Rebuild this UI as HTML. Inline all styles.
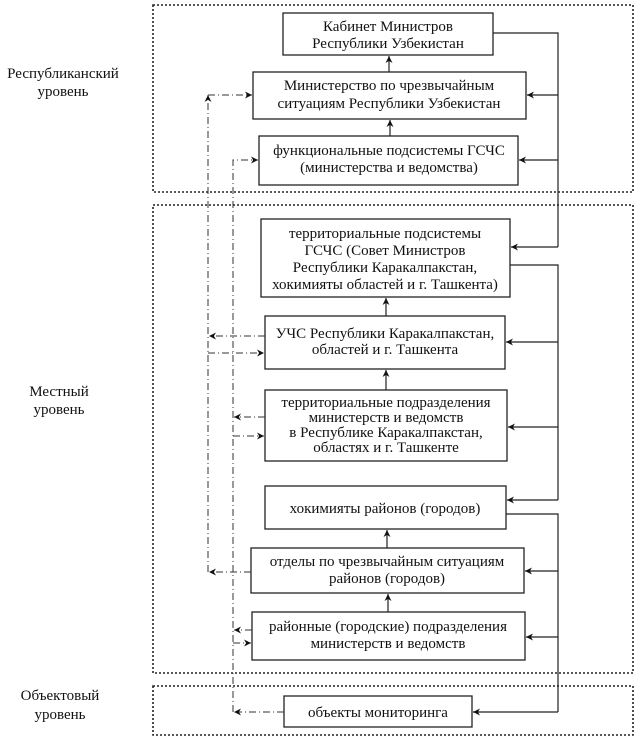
<!DOCTYPE html>
<html><head><meta charset="utf-8"><style>
html,body{margin:0;padding:0;background:#fff}
svg{display:block}
</style></head><body>
<svg width="641" height="744" viewBox="0 0 641 744" xmlns="http://www.w3.org/2000/svg">
<defs>
<marker id="a" viewBox="0 0 10 10" refX="10" refY="5" markerWidth="7" markerHeight="7" orient="auto-start-reverse" markerUnits="userSpaceOnUse"><path d="M0,0 L10,5 L0,10 L3,5 z" fill="#111"/></marker>
</defs>
<g fill="none" stroke="#222" stroke-width="1.6" stroke-dasharray="2,2">
<rect x="153" y="5" width="480" height="187"/>
<rect x="153" y="205" width="480" height="468"/>
<rect x="153" y="686" width="480" height="49"/>
</g>
<g fill="#fff" stroke="#222" stroke-width="1.3">
<rect x="283" y="13" width="210" height="42"/>
<rect x="253" y="72" width="273" height="47"/>
<rect x="259" y="136" width="259" height="49"/>
<rect x="261" y="219" width="249" height="78"/>
<rect x="265" y="316" width="240" height="53"/>
<rect x="265" y="390" width="242" height="71"/>
<rect x="265" y="486" width="241" height="43"/>
<rect x="251" y="548" width="273" height="45"/>
<rect x="252" y="612" width="273" height="48"/>
<rect x="284" y="696" width="188" height="31"/>
</g>
<g fill="none" stroke="#222" stroke-width="1.2">
<path d="M493,33 H558 V247"/>
<path d="M558,95 H527" marker-end="url(#a)"/>
<path d="M558,160 H519" marker-end="url(#a)"/>
<path d="M558,247 H511" marker-end="url(#a)"/>
<path d="M510,265 H558 V500"/>
<path d="M558,342 H506" marker-end="url(#a)"/>
<path d="M558,427 H508" marker-end="url(#a)"/>
<path d="M558,500 H507" marker-end="url(#a)"/>
<path d="M506,514 H558 V712"/>
<path d="M558,571 H525" marker-end="url(#a)"/>
<path d="M558,637 H526" marker-end="url(#a)"/>
<path d="M558,712 H473" marker-end="url(#a)"/>
</g>
<g fill="none" stroke="#222" stroke-width="1.2">
<path d="M389,72 V56" marker-end="url(#a)"/>
<path d="M390,136 V120" marker-end="url(#a)"/>
<path d="M386,316 V298" marker-end="url(#a)"/>
<path d="M386,390 V370" marker-end="url(#a)"/>
<path d="M387,548 V530" marker-end="url(#a)"/>
<path d="M388,612 V594" marker-end="url(#a)"/>
</g>
<g fill="none" stroke="#333" stroke-width="1" stroke-dasharray="7,3,1,3">
<path d="M208,572 V95" marker-end="url(#a)"/>
<path d="M208,95 H252" marker-end="url(#a)"/>
<path d="M265,336 H209" marker-end="url(#a)"/>
<path d="M208,353 H264" marker-end="url(#a)"/>
<path d="M251,572 H209" marker-end="url(#a)"/>
<path d="M233,712 V160 H258" marker-end="url(#a)"/>
<path d="M265,417 H234" marker-end="url(#a)"/>
<path d="M233,436 H264" marker-end="url(#a)"/>
<path d="M252,630 H234" marker-end="url(#a)"/>
<path d="M233,643 H251" marker-end="url(#a)"/>
<path d="M284,712 H234" marker-end="url(#a)"/>
</g>
<g text-anchor="middle" font-family="'Liberation Serif', 'DejaVu Serif', serif" font-size="15" fill="#111">
<text x="388" y="31">Кабинет Министров</text>
<text x="388" y="48">Республики Узбекистан</text>
<text x="389" y="90">Министерство по чрезвычайным</text>
<text x="389" y="108">ситуациям Республики Узбекистан</text>
<text x="389" y="155">функциональные подсистемы ГСЧС</text>
<text x="389" y="172">(министерства и ведомства)</text>
<text x="385" y="238">территориальные подсистемы</text>
<text x="385" y="255">ГСЧС (Совет Министров</text>
<text x="385" y="272">Республики Каракалпакстан,</text>
<text x="385" y="289">хокимияты областей и г. Ташкента)</text>
<text x="385" y="338">УЧС Республики Каракалпакстан,</text>
<text x="385" y="354">областей и г. Ташкента</text>
<text x="386" y="407">территориальные подразделения</text>
<text x="386" y="422">министерств и ведомств</text>
<text x="386" y="437">в Республике Каракалпакстан,</text>
<text x="386" y="452">областях и г. Ташкенте</text>
<text x="385" y="513">хокимияты районов (городов)</text>
<text x="387" y="566">отделы по чрезвычайным ситуациям</text>
<text x="387" y="583">районов (городов)</text>
<text x="388" y="631">районные (городские) подразделения</text>
<text x="388" y="648">министерств и ведомств</text>
<text x="378" y="717">объекты мониторинга</text>
<text x="63" y="78">Республиканский</text>
<text x="63" y="96">уровень</text>
<text x="59" y="396">Местный</text>
<text x="59" y="414">уровень</text>
<text x="60" y="700">Объектовый</text>
<text x="60" y="719">уровень</text>
</g>
</svg>
</body></html>
